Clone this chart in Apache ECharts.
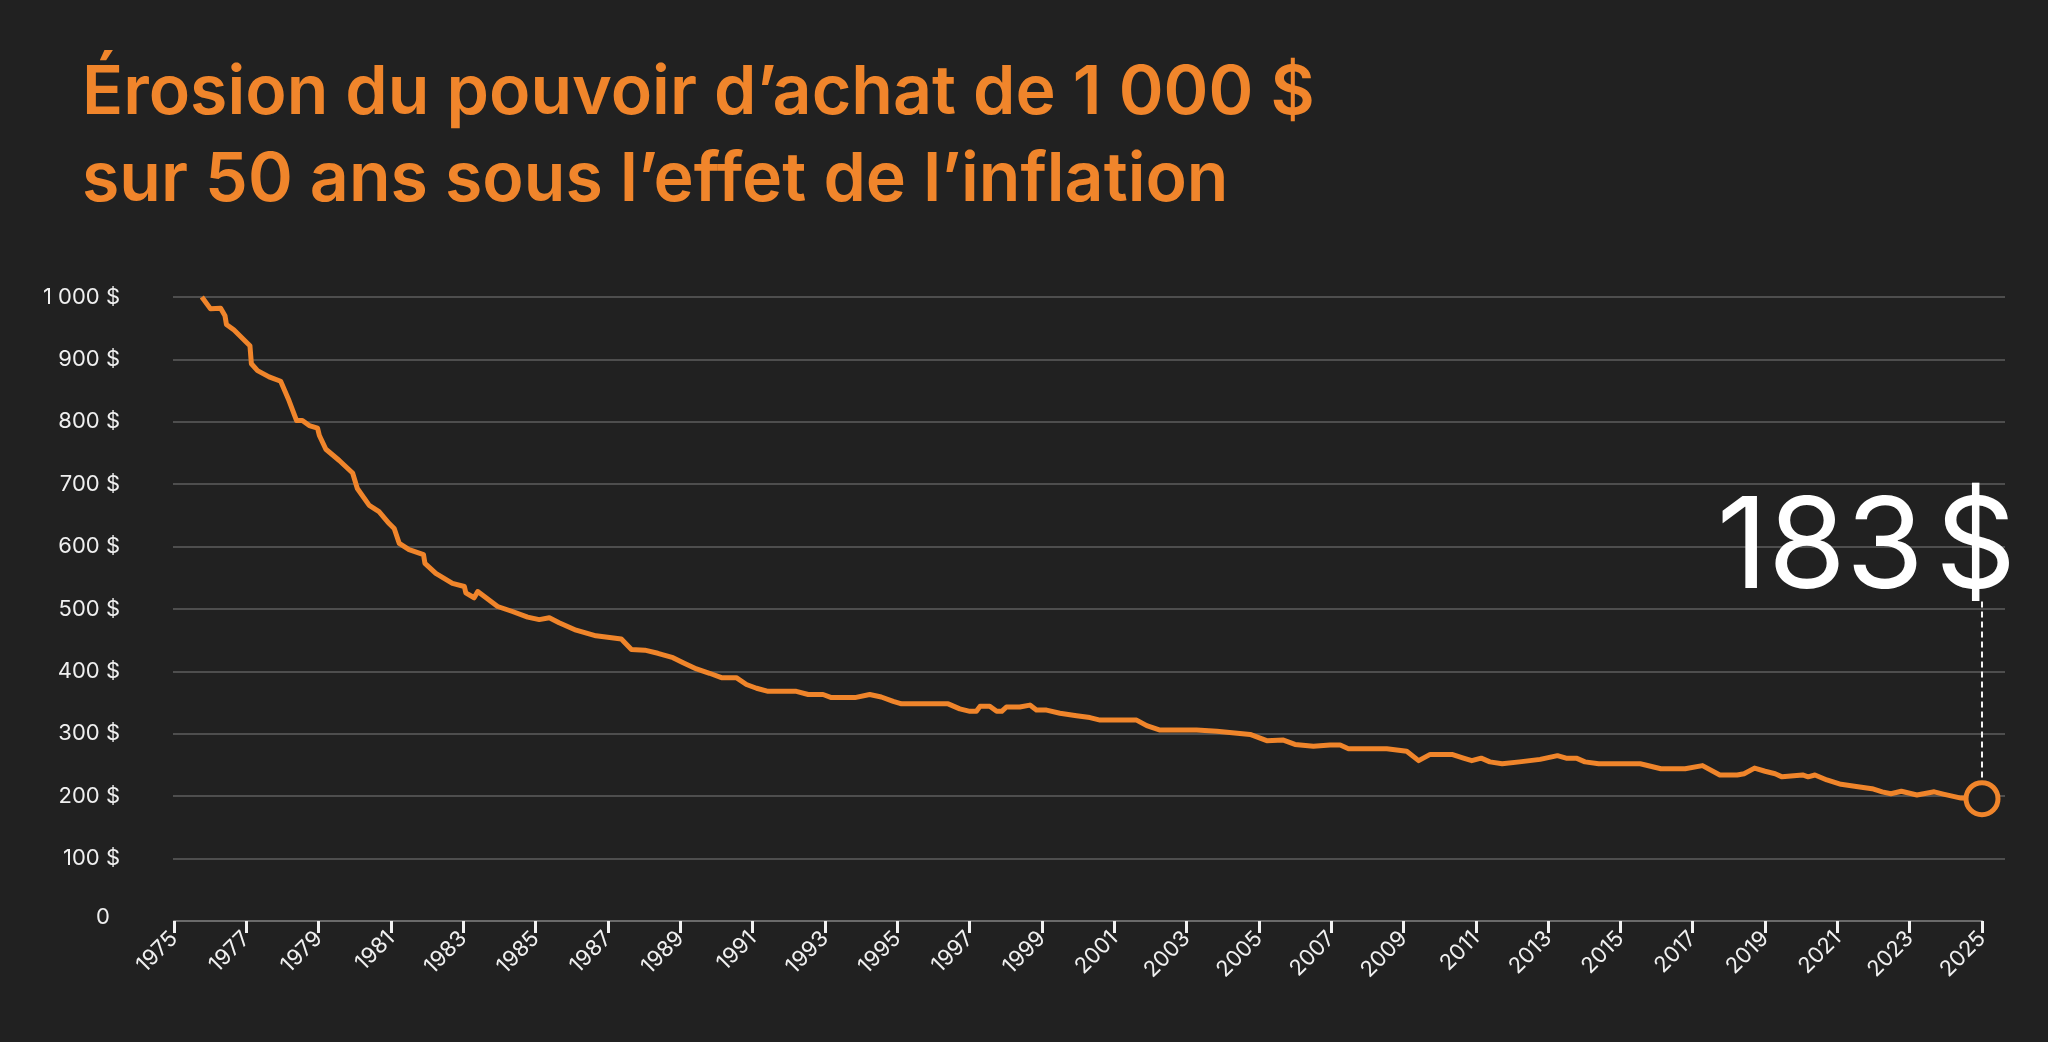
<!DOCTYPE html>
<html>
<head>
<meta charset="utf-8">
<script src="https://cdn.jsdelivr.net/npm/echarts@6/dist/echarts.min.js"></script>
<style>
html,body{margin:0;padding:0;background:#212121;}
#c{width:2048px;height:1042px;}
</style>
</head>
<body>
<div id="c"></div>
<script>
const titleLines = ['Érosion du pouvoir d’achat de 1 000 $', 'sur 50 ans sous l’effet de l’inflation'];
const years = [1975.77,1976.01,1976.29,1976.41,1976.45,1976.66,1976.89,1977.10,1977.14,1977.31,1977.63,1977.95,1978.18,1978.39,1978.55,1978.74,1978.97,1979.02,1979.20,1979.57,1979.94,1980.07,1980.40,1980.67,1980.95,1981.09,1981.23,1981.50,1981.90,1981.94,1982.24,1982.70,1983.03,1983.07,1983.30,1983.40,1983.63,1983.95,1984.36,1984.78,1985.10,1985.38,1985.65,1986.12,1986.67,1987.37,1987.65,1988.02,1988.38,1988.80,1989.08,1989.45,1989.81,1990.14,1990.55,1990.83,1991.11,1991.43,1992.21,1992.54,1992.95,1993.18,1993.83,1994.24,1994.56,1994.89,1995.12,1996.41,1996.73,1997.01,1997.19,1997.29,1997.56,1997.75,1997.89,1998.02,1998.39,1998.67,1998.85,1999.13,1999.50,1999.96,2000.33,2000.61,2001.62,2001.90,2002.27,2003.28,2003.84,2004.76,2005.22,2005.68,2006.00,2006.51,2006.97,2007.25,2007.48,2008.54,2009.09,2009.42,2009.74,2010.34,2010.66,2010.89,2011.15,2011.39,2011.73,2012.21,2012.78,2013.26,2013.50,2013.78,2014.02,2014.40,2015.55,2016.12,2016.79,2017.27,2017.75,2018.23,2018.42,2018.71,2019.00,2019.28,2019.47,2020.04,2020.19,2020.38,2020.71,2021.10,2021.57,2021.96,2022.24,2022.48,2022.77,2023.20,2023.68,2023.96,2024.42,2025.00];
const values = [1000,981,982,970,956,947,934,922,893,882,872,865,834,802,802,794,790,778,756,738,718,693,666,656,637,629,605,595,587,573,557,541,536,526,518,528,518,504,496,487,483,486,478,466,457,452,435,434,429,422,414,404,397,390,390,379,373,368,368,363,363,358,358,363,359,352,348,348,340,336,336,344,344,336,336,343,343,346,338,338,333,329,326,322,322,313,306,306,304,299,289,290,283,280,282,282,276,276,272,257,267,267,261,257,261,255,252,255,259,265,261,261,255,252,252,244,244,249,234,234,236,245,240,236,231,234,231,234,226,219,215,212,207,204,208,202,207,203,197,196];
const xTickYears = [1975,1977,1979,1981,1983,1985,1987,1989,1991,1993,1995,1997,1999,2001,2003,2005,2007,2009,2011,2013,2015,2017,2019,2021,2023,2025];
const yTickLabels = {0:'{z|0}',100:'100 $',200:'200 $',300:'300 $',400:'400 $',500:'500 $',600:'600 $',700:'700 $',800:'800 $',900:'900 $',1000:'1 000 $'};
const calloutText = '183\u200A$';
const calloutTop = 514;
const lastYear = years[years.length-1];
const lastValue = values[values.length-1];

const ORANGE = '#F0852B';
const BG = '#212121';
const FONT = 'Inter, "Noto Sans", sans-serif';

const chart = echarts.init(document.getElementById('c'), null, {renderer:'canvas'});
chart.setOption({
  backgroundColor: BG,
  animation: false,
  title: {
    text: titleLines.join('\n'),
    left: 77, top: 45,
    textStyle: {color: ORANGE, fontFamily: FONT, fontWeight: 600, fontSize: 68, lineHeight: 87}
  },
  grid: [
    {left: 174, right: 66, top: 297, bottom: 121},
    {left: 173, right: 43, top: 297, bottom: 121}
  ],
  xAxis: [
    {
      gridIndex: 0, type: 'value', min: 1975, max: 2025,
      splitLine: {show: false},
      axisLine: {show: true, onZero: false, lineStyle: {color: '#6a6a6a', width: 2}},
      axisTick: {show: true, customValues: xTickYears, length: 12, lineStyle: {color: '#f2f2f2', width: 3}},
      axisLabel: {show: true, customValues: xTickYears, rotate: 45, margin: 14, color: '#f0f0f0', fontFamily: FONT, fontSize: 22, formatter: v => String(v)}
    },
    {gridIndex: 1, type: 'value', min: 0, max: 1, show: false}
  ],
  yAxis: [
    {gridIndex: 0, type: 'value', min: 0, max: 1000, interval: 100, show: false, splitLine: {show: false}},
    {
      gridIndex: 1, type: 'value', min: 0, max: 1000, interval: 100,
      axisLine: {show: false}, axisTick: {show: false},
      splitLine: {show: true, showMinLine: false, lineStyle: {color: '#5e5e5e', width: 1.5}},
      axisLabel: {color: '#f0f0f0', fontFamily: FONT, fontSize: 22, margin: 53, formatter: v => yTickLabels[v],
        rich: {z: {color: '#f0f0f0', fontFamily: FONT, fontSize: 22, padding: [0, 10, 8, 0]}}}
    }
  ],
  series: [{
    type: 'line', xAxisIndex: 0, yAxisIndex: 0,
    data: years.map((y, i) => [y, values[i]]),
    showSymbol: false, smooth: false,
    lineStyle: {color: ORANGE, width: 5, join: 'round'},
    markLine: {
      silent: true, symbol: 'none', animation: false,
      lineStyle: {color: '#f2f2f2', width: 2, type: [6, 4]},
      label: {show: false},
      data: [[{coord: [lastYear, lastValue + 34]}, {coord: [lastYear, calloutTop]}]]
    },
    markPoint: {
      silent: true, animation: false,
      data: [
        {coord: [lastYear, lastValue], symbol: 'circle', symbolSize: 32,
          itemStyle: {color: BG, borderColor: ORANGE, borderWidth: 5}, label: {show: false}},
        {coord: [lastYear, 594], symbol: 'circle', symbolSize: 0,
          label: {show: true, formatter: calloutText, position: 'inside', align: 'right', verticalAlign: 'middle',
            offset: [34, 0], color: '#ffffff', fontFamily: FONT, fontWeight: 400, fontSize: 126}}
      ]
    }
  }]
});
</script>
</body>
</html>
